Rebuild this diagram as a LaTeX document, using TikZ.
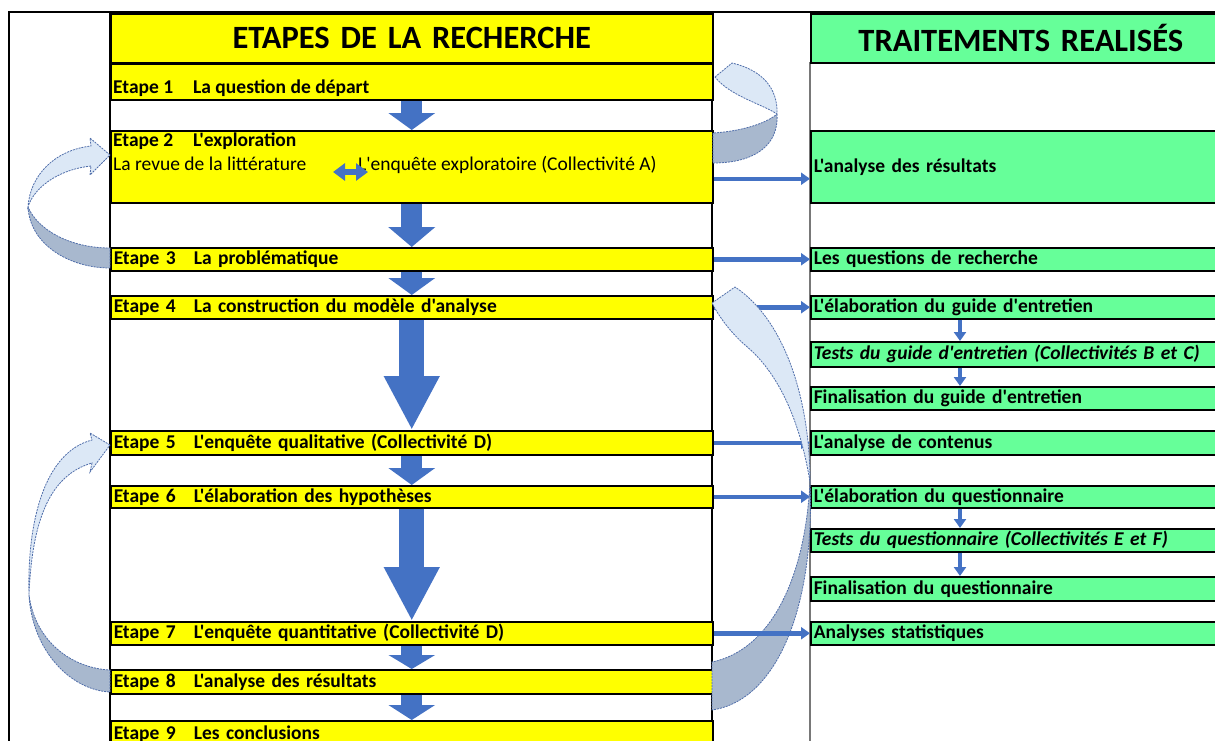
\documentclass[tikz,border=0pt]{standalone}
\usepackage{fontspec}
\newfontfamily\calibri{Carlito}
\usetikzlibrary{arrows.meta}
\definecolor{jaune}{RGB}{255,255,0}
\definecolor{vert}{RGB}{102,255,153}
\definecolor{bleu}{RGB}{68,114,196}
\definecolor{ciel}{RGB}{220,232,246}
\definecolor{ombre}{RGB}{168,184,206}
\definecolor{contour}{RGB}{80,110,170}
\definecolor{gris}{RGB}{120,120,120}
\newcommand\ligne{\calibri\bfseries\fontsize{19.5}{24}\selectfont}
\newcommand\titre{\calibri\bfseries\fontsize{32.5}{36}\selectfont}
\tikzset{
	etape/.style={draw, line width=1.5pt, fill=jaune, anchor=north west, minimum width=602pt, text width=596pt, align=left, inner xsep=3pt, inner ysep=0pt, font=\ligne},
	traitement/.style={etape, fill=vert, minimum width=420pt, text width=414pt},
	entete/.style={align=center, font=\titre},
	txt/.style={anchor=west, inner sep=0pt, font=\ligne},
	bloc/.style={draw=bleu, line width=21pt, -{Triangle[width=46pt,length=#1]}},
	bloc/.default=17pt,
	gbloc/.style={draw=bleu, line width=25pt, -{Triangle[width=52pt,length=54pt]}},
	fleche/.style={draw=bleu, line width=4.5pt, -{Triangle[width=12pt,length=9pt]}},
	ruban/.style={fill=ciel, draw=contour, line width=0.8pt, dash pattern=on 2pt off 1pt},
}
\begin{document}
\begin{tikzpicture}[x=1pt, y=-1pt]
	\useasboundingbox (0,0) rectangle (1215,740);
	\draw[line width=2pt] (9,760) -- (9,12) -- (1240,12);
	\draw[line width=1.5pt] (110,13) -- (110,760) (712,13) -- (712,760);
	\draw[gris, line width=1.5pt] (810,62) -- (810,760);
	% etapes de la recherche
	\node[etape, entete, minimum height=49pt] (H) at (110,13) {ETAPES DE LA RECHERCHE};
	\node[etape, minimum height=36pt] (E1) at (110,63) {};
	\node[etape, minimum height=72pt] (E2) at (110,130) {};
	\node[etape, minimum height=23pt] (E3) at (110,247) {\makebox[80pt][l]{Etape 3}La problématique};
	\node[etape, minimum height=23pt] (E4) at (110,295) {\makebox[80pt][l]{Etape 4}La construction du modèle d'analyse};
	\node[etape, minimum height=24pt] (E5) at (110,430) {\makebox[80pt][l]{Etape 5}L'enquête qualitative (Collectivité D)};
	\node[etape, minimum height=22pt] (E6) at (110,485) {\makebox[80pt][l]{Etape 6}L'élaboration des hypothèses};
	\node[etape, minimum height=23pt] (E7) at (110,621) {\makebox[80pt][l]{Etape 7}L'enquête quantitative (Collectivité D)};
	\node[etape, minimum height=24pt] (E8) at (110,669) {\makebox[80pt][l]{Etape 8}L'analyse des résultats};
	\node[etape, minimum height=26pt] (E9) at (110,720) {\makebox[80pt][l]{Etape 9}Les conclusions};
	\node[txt] (t1) at (113,88) {\makebox[80pt][l]{Etape 1}La question de départ};
	\node[txt, anchor=north west, align=left] (t2) at (113,133) {\makebox[80pt][l]{Etape 2}L'exploration\\
		\mdseries\makebox[245pt][l]{La revue de la littérature}L'enquête exploratoire (Collectivité A)};
	% traitements realises
	\node[traitement, entete, minimum height=49pt] (G0) at (810,13) {TRAITEMENTS REALISÉS};
	\node[traitement, minimum height=72pt] (G1) at (810,130) {L'analyse des résultats};
	\node[traitement, minimum height=23pt] (G2) at (810,247) {Les questions de recherche};
	\node[traitement, minimum height=23pt] (G3) at (810,295) {L'élaboration du guide d'entretien};
	\node[traitement, minimum height=25pt] (G4) at (810,341) {\itshape Tests du guide d'entretien (Collectivités B et C)};
	\node[traitement, minimum height=23pt] (G5) at (810,386) {Finalisation du guide d'entretien};
	\node[traitement, minimum height=24pt] (G6) at (810,430) {L'analyse de contenus};
	\node[traitement, minimum height=22pt] (G7) at (810,485) {L'élaboration du questionnaire};
	\node[traitement, minimum height=23pt] (G8) at (810,528) {\itshape Tests du questionnaire (Collectivités E et F)};
	\node[traitement, minimum height=24pt] (G9) at (810,576) {Finalisation du questionnaire};
	\node[traitement, minimum height=23pt] (G10) at (810,621) {Analyses statistiques};
	% fleches
	\draw[bloc] (E1.south) -- (E2.north);
	\draw[bloc=20pt] (E2.south) -- (E3.north);
	\draw[bloc] (E3.south) -- (E4.north);
	\draw[gbloc] (E4.south) -- (E5.north);
	\draw[bloc] (E5.south) -- (E6.north);
	\draw[gbloc] (E6.south) -- (E7.north);
	\draw[bloc=14pt] (E7.south) -- (E8.north);
	\draw[bloc=15pt] (E8.south) -- (E9.north);
	\coordinate (revue) at (333,172);
	\coordinate (enquete) at (368,172);
	\draw[draw=bleu, line width=6pt, {Triangle[width=17pt,length=12pt]}-{Triangle[width=17pt,length=12pt]}] (revue) -- (enquete);
	\draw[fleche] ([yshift=-12pt]E2.east) -- ([yshift=-12pt]G1.west);
	\draw[fleche] (E3.east) -- (G2.west);
	\draw[fleche] (E4.east) -- (G3.west);
	\draw[fleche] (E5.east) -- (G6.west);
	\coordinate (axe) at (960,0);
	\draw[fleche, line width=4pt] (G3.south -| axe) -- (G4.north -| axe);
	\draw[fleche, line width=4pt] (G4.south -| axe) -- (G5.north -| axe);
	\draw[fleche, line width=4pt] (G7.south -| axe) -- (G8.north -| axe);
	\draw[fleche, line width=4pt] (G8.south -| axe) -- (G9.north -| axe);
	% rubans
	\path[ruban] (715,77) -- (732,63) .. controls (762,70) and (778,88) .. (777,114) .. controls (762,104) and (730,96) .. (715,77) -- cycle;
	\path[ruban, fill=ombre] (777,114) .. controls (779,145) and (755,163) .. (713,163) -- (713,133) .. controls (745,131) and (768,122) .. (777,114) -- cycle;
	\path[ruban] (110,155) -- (90,138) -- (91,146) .. controls (55,150) and (30,175) .. (28,207) .. controls (33,190) and (55,170) .. (91,166) -- (90,175) -- cycle;
	\path[ruban, fill=ombre] (28,207) .. controls (30,245) and (70,268) .. (110,268) -- (110,248) .. controls (70,248) and (38,230) .. (28,207) -- cycle;
	\path[ruban] (110,445) -- (90,433) -- (92,440) .. controls (45,452) and (27,520) .. (29,595) .. controls (32,520) and (50,475) .. (92,463) -- (90,472) -- cycle;
	\path[ruban, fill=ombre] (29,595) .. controls (32,650) and (70,690) .. (110,692) -- (110,670) .. controls (70,668) and (35,640) .. (29,595) -- cycle;
	\path[ruban] (712,303) -- (735,287) .. controls (785,320) and (810,400) .. (810,482) .. controls (800,420) and (778,372) .. (745,345) .. controls (730,332) and (718,315) .. (712,303) -- cycle;
	\path[ruban, fill=ombre] (810,482) .. controls (815,600) and (780,700) .. (712,710) -- (712,662) .. controls (770,650) and (805,580) .. (810,482) -- cycle;
	%
	\draw[fleche] (E6.east) -- (G7.west);
	\draw[fleche] (E7.east) -- (G10.west);
\end{tikzpicture}
\end{document}
